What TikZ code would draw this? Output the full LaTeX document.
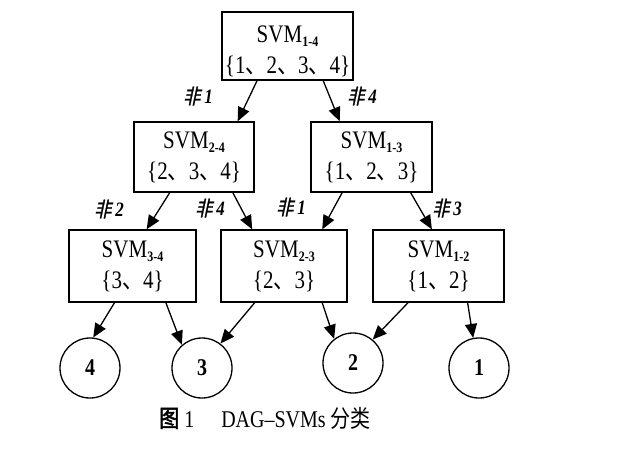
\documentclass[tikz,border=0pt]{standalone}
\usepackage{graphicx}
\usepackage{fontspec}
\setmainfont{Liberation Serif}
\newfontfamily\cjk{Noto Sans CJK SC}
\newfontfamily\cjkb[FakeBold=2]{Noto Sans CJK SC}
\newfontfamily\cjksl[FakeSlant=0.25,FakeBold=1.5]{Noto Sans CJK SC}
\usetikzlibrary{arrows.meta,calc}
\newcommand\vst[1]{\scalebox{1}[1.2]{#1}}
\newcommand\mysub[1]{\raisebox{-4pt}{\fontsize{12}{12}\selectfont\bfseries #1}}
\newcommand\dun{{\cjk 、}}
\newcommand\fei[1]{\vst{{\cjksl 非}\hspace{4pt}\textit{\textbf{#1}}}}
\begin{document}
\begin{tikzpicture}[x=1pt,y=-1pt,
  svmbox/.style={draw,line width=1.3pt,inner sep=0pt,align=center,font=\fontsize{21}{31}\selectfont},
  boxtext/.style={inner sep=0pt,align=center,font=\fontsize{21}{31}\selectfont},
  leaf/.style={draw,circle,line width=1.3pt,minimum size=60pt,inner sep=0pt,font=\fontsize{20}{20}\selectfont\bfseries},
  arr/.style={line width=1.3pt,-{Triangle[length=14pt,width=12pt]}},
  lbl/.style={font=\fontsize{17}{17}\selectfont,inner sep=0pt}]
\useasboundingbox (0,0) rectangle (640,451);

\node[svmbox,minimum width=131pt,minimum height=68pt] (s14) at (287.5,46) {};
\node[boxtext] (t14) at (287.5,51) {\vst{SVM\mysub{1-4}}\\\vst{\{1\dun 2\dun 3\dun 4\}}};
\node[svmbox,minimum width=120pt,minimum height=70pt] (s24) at (194,157) {\vst{SVM\mysub{2-4}}\\\vst{\{2\dun 3\dun 4\}}};
\node[svmbox,minimum width=121pt,minimum height=70pt] (s13) at (371.5,157) {\vst{SVM\mysub{1-3}}\\\vst{\{1\dun 2\dun 3\}}};
\node[svmbox,minimum width=127pt,minimum height=72pt] (s34) at (132.5,266) {\vst{SVM\mysub{3-4}}\\\vst{\{3\dun 4\}}};
\node[svmbox,minimum width=126pt,minimum height=72pt] (s23) at (284,266) {\vst{SVM\mysub{2-3}}\\\vst{\{2\dun 3\}}};
\node[svmbox,minimum width=131pt,minimum height=72pt] (s12) at (438.5,266) {\vst{SVM\mysub{1-2}}\\\vst{\{1\dun 2\}}};

\node[leaf] (c4) at (90,368) {\vst{4}};
\node[leaf] (c3) at (202,368) {\vst{3}};
\node[leaf] (c2) at (353,363) {\vst{2}};
\node[leaf] (c1) at (479,368) {\vst{1}};

\node[lbl] (l1) at (198,96) {\fei{1}};
\node[lbl] (l2) at (362,96) {\fei{4}};
\node[lbl] (l3) at (109,209) {\fei{2}};
\node[lbl] (l4) at (210,208) {\fei{4}};
\node[lbl] (l5) at (291,207) {\fei{1}};
\node[lbl] (l6) at (447,208) {\fei{3}};

\draw[arr] ($(s14.south west)!0.27!(s14.south east)$) -- ($(s24.north west)!0.86!(s24.north east)$);
\draw[arr] ($(s14.south west)!0.77!(s14.south east)$) -- ($(s13.north west)!0.24!(s13.north east)$);
\draw[arr] ($(s24.south west)!0.30!(s24.south east)$) -- ($(s34.north west)!0.61!(s34.north east)$);
\draw[arr] ($(s24.south west)!0.82!(s24.south east)$) -- ($(s23.north west)!0.25!(s23.north east)$);
\draw[arr] ($(s13.south west)!0.26!(s13.south east)$) -- ($(s23.north west)!0.80!(s23.north east)$);
\draw[arr] ($(s13.south west)!0.82!(s13.south east)$) -- ($(s12.north west)!0.45!(s12.north east)$);

\draw[arr] ($(s34.south west)!0.36!(s34.south east)$) -- (c4.84);
\draw[arr] ($(s34.south west)!0.76!(s34.south east)$) -- (c3.131);
\draw[arr] ($(s23.south west)!0.27!(s23.south east)$) -- (c3.53);
\draw[arr] ($(s23.south west)!0.80!(s23.south east)$) -- (c2.128);
\draw[arr] ($(s12.south west)!0.27!(s12.south east)$) -- (c2.50);
\draw[arr] ($(s12.south west)!0.72!(s12.south east)$) -- (c1.101);

\node[font=\fontsize{20}{20}\selectfont] (cap) at (265,418) {\vst{{\cjkb 图}\ 1\hspace{27pt}DAG--SVMs\ {\cjk 分类}}};
\end{tikzpicture}
\end{document}
